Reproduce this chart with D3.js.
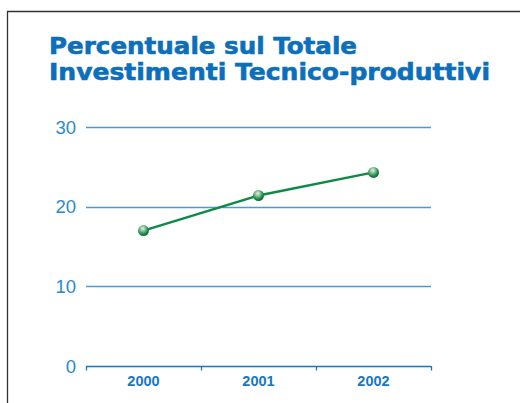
<!DOCTYPE html>
<html>
<head>
<meta charset="utf-8">
<script src="https://cdn.jsdelivr.net/npm/d3@7"></script>
<style>
  body { margin: 0; background: #fff; }
  svg { display: block; }
</style>
</head>
<body>
<svg id="chart"></svg>
<script>
// values
var years = ['2000', '2001', '2002'];
var values = [17.0, 21.4, 24.3];
var yTicks = [0, 10, 20, 30];
var titleLines = ['Percentuale sul Totale', 'Investimenti Tecnico-produttivi'];

var width = 520, height = 403;
var svg = d3.select('#chart')
    .attr('width', width)
    .attr('height', height);

var blue = '#1677c4';
var green = '#0d8a45';

// frame (only left and top edges show in the crop)
svg.append('path')
    .attr('d', 'M7.5,' + height + 'V11.5H' + width)
    .attr('fill', 'none')
    .attr('stroke', '#333')
    .attr('stroke-width', 1.3);

// title
svg.append('g')
    .attr('class', 'title')
    .selectAll('text')
    .data(titleLines)
    .join('text')
    .attr('x', 49)
    .attr('y', function(d, i) { return 54 + i * 26; })
    .attr('font-family', 'DejaVu Sans, Verdana, sans-serif')
    .attr('font-weight', 'bold')
    .attr('font-size', '23px')
    .attr('fill', '#0b6fbb')
    .attr('stroke', '#0b6fbb')
    .attr('stroke-width', 0.6)
    .attr('textLength', function(d, i) { return i === 0 ? 308 : 441; })
    .attr('lengthAdjust', 'spacingAndGlyphs')
    .text(function(d) { return d; });

var x = d3.scaleBand()
    .domain(years)
    .range([86, 431]);

var y = d3.scaleLinear()
    .domain([0, 30])
    .range([366, 127]);

// gridlines
svg.append('g')
    .attr('class', 'grid')
    .selectAll('line')
    .data(yTicks)
    .join('line')
    .attr('x1', 86)
    .attr('x2', 431)
    .attr('y1', function(d) { return Math.round(y(d)) + 0.5; })
    .attr('y2', function(d) { return Math.round(y(d)) + 0.5; })
    .attr('stroke', function(d) { return d === 0 ? blue : '#4f98d4'; })
    .attr('stroke-width', 1.3);

// y labels
svg.append('g')
    .attr('class', 'ylabels')
    .selectAll('text')
    .data(yTicks)
    .join('text')
    .attr('x', 76)
    .attr('y', function(d) { return y(d); })
    .attr('dy', '0.36em')
    .attr('text-anchor', 'end')
    .attr('font-family', 'Liberation Sans, Arial, sans-serif')
    .attr('font-size', '18.5px')
    .attr('fill', '#2a88d2')
    .text(function(d) { return d; });

// x axis ticks
var tickXs = x.domain().map(function(d) { return x(d); }).concat([x.range()[1]]);
svg.append('g')
    .attr('class', 'xticks')
    .selectAll('line')
    .data(tickXs)
    .join('line')
    .attr('x1', function(d) { return Math.round(d) + 0.5; })
    .attr('x2', function(d) { return Math.round(d) + 0.5; })
    .attr('y1', y(0))
    .attr('y2', y(0) + 4.5)
    .attr('stroke', blue)
    .attr('stroke-width', 1.3);

svg.append('g')
    .attr('class', 'xlabels')
    .selectAll('text')
    .data(years)
    .join('text')
    .attr('x', function(d) { return x(d) + x.bandwidth() / 2; })
    .attr('y', 386)
    .attr('text-anchor', 'middle')
    .attr('font-family', 'Liberation Sans, Arial, sans-serif')
    .attr('font-weight', 'bold')
    .attr('font-size', '14.5px')
    .attr('fill', blue)
    .text(function(d) { return d; });

// line
var line = d3.line()
    .x(function(d, i) { return x(years[i]) + x.bandwidth() / 2; })
    .y(function(d) { return y(d); });

svg.append('path')
    .datum(values)
    .attr('d', line)
    .attr('fill', 'none')
    .attr('stroke', green)
    .attr('stroke-width', 2.4);

// shiny markers
var defs = svg.append('defs');
var grad = defs.append('radialGradient')
    .attr('id', 'ball')
    .attr('cx', '40%').attr('cy', '35%').attr('r', '65%')
    .attr('fx', '45%').attr('fy', '30%');
grad.append('stop').attr('offset', '0%').attr('stop-color', '#e8f2ea');
grad.append('stop').attr('offset', '35%').attr('stop-color', '#8cc29c');
grad.append('stop').attr('offset', '75%').attr('stop-color', '#1b8a4a');
grad.append('stop').attr('offset', '100%').attr('stop-color', '#0a6a33');

svg.append('g')
    .attr('class', 'points')
    .selectAll('circle')
    .data(values)
    .join('circle')
    .attr('cx', function(d, i) { return x(years[i]) + x.bandwidth() / 2; })
    .attr('cy', function(d) { return y(d); })
    .attr('r', 5.5)
    .attr('fill', 'url(#ball)');
</script>
</body>
</html>
